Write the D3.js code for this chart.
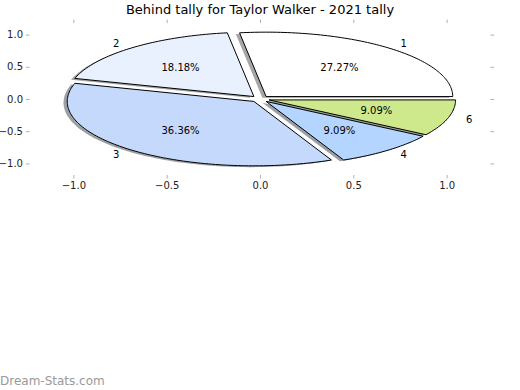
<!DOCTYPE html>
<html>
<head>
<meta charset="utf-8">
<script src="https://cdn.jsdelivr.net/npm/d3@7"></script>
<style>
  body { margin: 0; background: #fff; }
  svg { display: block; font-family: "DejaVu Sans", sans-serif; }
  .tick line { stroke: #b0b0b0; }
  .tick text { fill: #222; font-size: 10px; font-family: "DejaVu Sans", sans-serif; }
</style>
</head>
<body>
<svg id="chart" width="520" height="390" viewBox="0 0 520 390"></svg>
<script>
// pie data (counts out of 11)
const labels = ["1", "2", "3", "4", "6"];
const counts = [3, 2, 4, 1, 1];
const colors = ["#ffffff", "#eaf1fe", "#c5d9fd", "#b3d5ff", "#cde98b"];
const xTicks = [-1.0, -0.5, 0.0, 0.5, 1.0];
const yTicks = [-1.0, -0.5, 0.0, 0.5, 1.0];
const titleText = "Behind tally for Taylor Walker - 2021 tally";

const svg = d3.select("#chart");
const explode = 0.05;

// axes box in pixels; data units differ in x and y so the pie is an ellipse
const x = d3.scaleLinear().domain([-1.235, 1.235]).range([29.5, 490.5]);
const y = d3.scaleLinear().domain([-1.18, 1.18]).range([175, 23]);

const fmt = d => d3.format(".1f")(d).replace("-", "\u2212");

// ticks on all four sides, labels only left and bottom
svg.append("g").attr("transform", `translate(0,${y.range()[0]})`)
    .call(d3.axisBottom(x).tickValues(xTicks).tickSize(3.5).tickPadding(3).tickFormat(fmt))
    .call(g => g.select(".domain").remove());
svg.append("g").attr("transform", `translate(0,${y.range()[1]})`)
    .call(d3.axisTop(x).tickValues(xTicks).tickSize(3.5).tickFormat(""))
    .call(g => g.select(".domain").remove());
svg.append("g").attr("transform", `translate(${x.range()[0]},0)`)
    .call(d3.axisLeft(y).tickValues(yTicks).tickSize(3.5).tickPadding(3).tickFormat(fmt))
    .call(g => g.select(".domain").remove());
svg.append("g").attr("transform", `translate(${x.range()[1]},0)`)
    .call(d3.axisRight(y).tickValues(yTicks).tickSize(3.5).tickFormat(""))
    .call(g => g.select(".domain").remove());

// wedge angles, counter-clockwise from 0
const total = d3.sum(counts);
let acc = 0;
const wedges = counts.map((c, i) => {
    const a0 = acc / total * 2 * Math.PI;
    acc += c;
    const a1 = acc / total * 2 * Math.PI;
    const mid = (a0 + a1) / 2;
    return {
        label: labels[i], value: c, color: colors[i], a0, a1, mid,
        cx: explode * Math.cos(mid), cy: explode * Math.sin(mid)
    };
});

function wedgePoints(w, ox, oy) {
    const pts = [[w.cx + ox, w.cy + oy]];
    const n = Math.max(8, Math.ceil((w.a1 - w.a0) / 0.02));
    for (let k = 0; k <= n; k++) {
        const a = w.a0 + (w.a1 - w.a0) * k / n;
        pts.push([w.cx + ox + Math.cos(a), w.cy + oy + Math.sin(a)]);
    }
    return pts;
}

const line = d3.line().x(d => x(d[0])).y(d => y(d[1]));

// shadows
svg.append("g").selectAll("path")
    .data(wedges)
    .join("path")
    .attr("d", d => line(wedgePoints(d, -0.02, -0.02)) + "Z")
    .attr("fill", d => {
        const c = d3.rgb(d.color);
        return d3.rgb(c.r * 0.3, c.g * 0.3, c.b * 0.3);
    })
    .attr("fill-opacity", 0.5);

// wedges
svg.append("g").selectAll("path")
    .data(wedges)
    .join("path")
    .attr("d", d => line(wedgePoints(d, 0, 0)) + "Z")
    .attr("fill", d => d.color)
    .attr("stroke", "#000")
    .attr("stroke-width", 1)
    .attr("stroke-linejoin", "round");

// outer labels
svg.append("g").selectAll("text")
    .data(wedges)
    .join("text")
    .attr("x", d => x(d.cx + 1.1 * Math.cos(d.mid)))
    .attr("y", d => y(d.cy + 1.1 * Math.sin(d.mid)))
    .attr("text-anchor", d => Math.cos(d.mid) > 0 ? "start" : "end")
    .attr("dominant-baseline", "central")
    .attr("font-size", 10)
    .attr("fill", "#000")
    .text(d => d.label);

// percentages
svg.append("g").selectAll("text")
    .data(wedges)
    .join("text")
    .attr("x", d => x(d.cx + 0.6 * Math.cos(d.mid)))
    .attr("y", d => y(d.cy + 0.6 * Math.sin(d.mid)))
    .attr("text-anchor", "middle")
    .attr("dominant-baseline", "central")
    .attr("font-size", 10)
    .attr("fill", "#000")
    .text(d => (d.value / total * 100).toFixed(2) + "%");

svg.append("text")
    .attr("x", 260).attr("y", 14)
    .attr("text-anchor", "middle")
    .attr("font-size", 13)
    .attr("fill", "#000")
    .text(titleText);

svg.append("text")
    .attr("x", 0).attr("y", 385)
    .attr("font-size", 12)
    .attr("fill", "#999")
    .attr("font-family", "'DejaVu Sans', sans-serif")
    .text("Dream-Stats.com");
</script>
</body>
</html>
